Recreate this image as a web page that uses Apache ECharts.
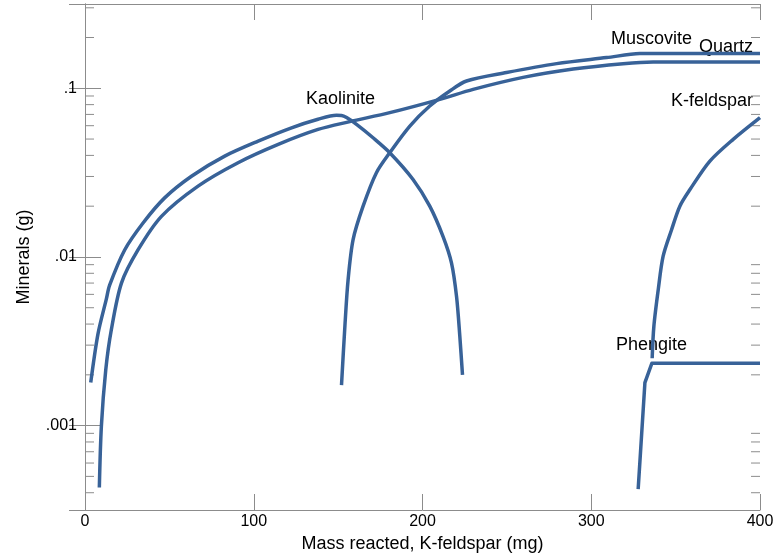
<!DOCTYPE html>
<html>
<head>
<meta charset="utf-8">
<title>Minerals vs mass reacted</title>
<script src="https://cdn.jsdelivr.net/npm/echarts@6/dist/echarts.min.js"></script>
<style>
html, body { margin: 0; padding: 0; background: #fff; }
#chart { width: 774px; height: 558px; }
</style>
</head>
<body>
<div id="chart"></div>
<script>
// values: [mass reacted (mg), mineral mass (g)]
const kaolinite = [
  [3.4, 0.0018], [7.7, 0.0035], [12.6, 0.0056], [14.6, 0.0068], [23.5, 0.0110],
  [34.4, 0.0159], [47.2, 0.0224], [63.1, 0.0301], [82.8, 0.0396], [102.6, 0.0486],
  [122.4, 0.0583], [138.1, 0.0655], [149.0, 0.0692], [152.0, 0.0690], [155.0, 0.0670],
  [160.9, 0.0611], [170.7, 0.0509], [180.6, 0.0415], [194.4, 0.0288], [204.3, 0.0200],
  [212.2, 0.0132], [217.2, 0.0092], [220.2, 0.0058], [222.1, 0.0034], [223.7, 0.0020]
]
const quartz = [
  [8.5, 0.00043], [9.7, 0.00099], [12.3, 0.00214], [15.6, 0.0037], [21.6, 0.0070],
  [31.4, 0.0110], [45.3, 0.0174], [67.0, 0.0263], [90.7, 0.0362], [114.5, 0.0465],
  [138.1, 0.0570], [156.9, 0.0634], [180.6, 0.0717], [210.3, 0.0860], [230.0, 0.0985],
  [259.6, 0.1160], [289.3, 0.1300], [318.9, 0.1400], [336.7, 0.1433], [400, 0.1433]
]
const muscovite = [
  [152.0, 0.00174], [154.0, 0.00387], [155.9, 0.0073], [158.9, 0.0127], [164.8, 0.0200],
  [172.7, 0.0316], [180.6, 0.0415], [192.5, 0.0597], [204.3, 0.0785], [216.2, 0.0964],
  [226.1, 0.1105], [249.8, 0.1240], [279.5, 0.1400], [309.1, 0.1520], [328.8, 0.1607],
  [335.0, 0.1610], [400, 0.1610]
]
const kfeldspar = [
  [336.1, 0.00251], [337.1, 0.00387], [339.7, 0.0064], [342.6, 0.0101], [347.6, 0.0145],
  [352.5, 0.0200], [358.5, 0.0251], [370.3, 0.0370], [384.1, 0.0498], [400, 0.0670]
]
const phengite = [
  [327.8, 0.00042], [331.8, 0.0018], [335.9, 0.00234], [400, 0.00234]
]

const xMin = 0
const xMax = 400
const xStep = 100
const yMin = 0.000316
const yMax = 0.316
const yMajor = [0.001, 0.01, 0.1]
const yLabels = ['.001', '.01', '.1']
const yMinor = [
  0.0004, 0.0005, 0.0006, 0.0007, 0.0008, 0.0009,
  0.002, 0.003, 0.004, 0.005, 0.006, 0.007, 0.008, 0.009,
  0.02, 0.03, 0.04, 0.05, 0.06, 0.07, 0.08, 0.09,
  0.2, 0.3
]

const font = 'Liberation Sans, Arial, sans-serif'
const lineColor = '#386298'
const frameColor = '#8c8c8c'

const chart = echarts.init(document.getElementById('chart'))

function lineSeries (name, data, smooth) {
  return {
    name: name,
    type: 'line',
    data: data,
    showSymbol: false,
    symbol: 'none',
    smooth: smooth,
    lineStyle: { color: lineColor, width: 3.5, join: 'round' },
    itemStyle: { color: lineColor },
    z: 3
  }
}

function yLabel (v) {
  const i = yMajor.findIndex(t => Math.abs(v / t - 1) < 1e-6)
  return i < 0 ? '' : yLabels[i]
}

const xAxisBase = {
  type: 'value',
  min: xMin,
  max: xMax,
  interval: xStep,
  axisLine: { show: true, lineStyle: { color: frameColor, width: 1 } },
  axisTick: { show: true, inside: true, length: 16, lineStyle: { color: frameColor } },
  splitLine: { show: false }
}

const yAxisBase = {
  type: 'log',
  logBase: 10,
  min: yMin,
  max: yMax,
  axisLine: { show: true, lineStyle: { color: frameColor, width: 1 } },
  axisTick: { show: true, inside: true, length: 16, lineStyle: { color: frameColor } },
  splitLine: { show: false },
  minorTick: { show: false }
}

const option = {
  animation: false,
  backgroundColor: '#fff',
  grid: { left: 85, right: 14, top: 4, bottom: 48, containLabel: false, outerBoundsMode: 'none' },
  xAxis: [
    Object.assign({}, xAxisBase, {
      position: 'bottom',
      name: 'Mass reacted, K-feldspar (mg)',
      nameLocation: 'middle',
      nameGap: 22,
      nameTextStyle: { color: '#000', fontSize: 18, fontFamily: font },
      axisLabel: { color: '#000', fontSize: 16, fontFamily: font, margin: 4 }
    }),
    Object.assign({}, xAxisBase, {
      position: 'top',
      axisLabel: { show: false }
    })
  ],
  yAxis: [
    Object.assign({}, yAxisBase, {
      position: 'left',
      name: 'Minerals (g)',
      nameLocation: 'middle',
      nameGap: 52,
      nameTextStyle: { color: '#000', fontSize: 18, fontFamily: font },
      axisLabel: {
        color: '#000', fontSize: 16, fontFamily: font, margin: 8,
        padding: [4, 0, 0, 0],
        showMinLabel: false, showMaxLabel: false,
        formatter: yLabel
      }
    }),
    Object.assign({}, yAxisBase, {
      position: 'right',
      axisLabel: { show: false }
    })
  ],
  series: [
    // minor log ticks on both vertical edges
    {
      type: 'custom',
      silent: true,
      xAxisIndex: 0,
      yAxisIndex: 0,
      clip: false,
      z: 1,
      data: yMinor.map(v => [xMin, v]),
      renderItem: function (params, api) {
        const v = api.value(1)
        const left = api.coord([xMin, v])
        const right = api.coord([xMax, v])
        return {
          type: 'group',
          children: [
            { type: 'line', shape: { x1: left[0], y1: left[1], x2: left[0] + 9, y2: left[1] }, style: { stroke: frameColor, lineWidth: 1 } },
            { type: 'line', shape: { x1: right[0] - 9, y1: right[1], x2: right[0], y2: right[1] }, style: { stroke: frameColor, lineWidth: 1 } }
          ]
        }
      }
    },
    lineSeries('Kaolinite', kaolinite, 0.3),
    lineSeries('Quartz', quartz, 0.3),
    lineSeries('Muscovite', muscovite, 0.3),
    lineSeries('K-feldspar', kfeldspar, 0.3),
    lineSeries('Phengite', phengite, false)
  ],
  graphic: [
    { type: 'text', x: 306, y: 99, style: { text: 'Kaolinite', font: '18px ' + font, fill: '#000', verticalAlign: 'middle' } },
    { type: 'text', x: 611, y: 39, style: { text: 'Muscovite', font: '18px ' + font, fill: '#000', verticalAlign: 'middle' } },
    { type: 'text', x: 699, y: 47, style: { text: 'Quartz', font: '18px ' + font, fill: '#000', verticalAlign: 'middle' } },
    { type: 'text', x: 671, y: 101, style: { text: 'K-feldspar', font: '18px ' + font, fill: '#000', verticalAlign: 'middle' } },
    { type: 'text', x: 616, y: 345, style: { text: 'Phengite', font: '18px ' + font, fill: '#000', verticalAlign: 'middle' } }
  ]
}

chart.setOption(option)
</script>
</body>
</html>
